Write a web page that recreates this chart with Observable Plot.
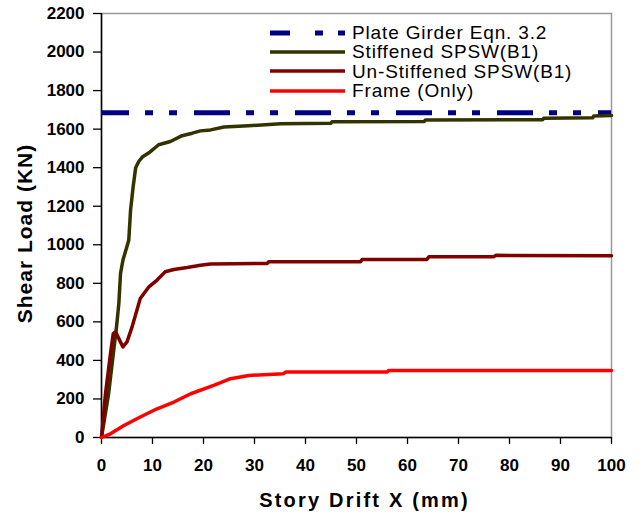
<!DOCTYPE html>
<html>
<head>
<meta charset="utf-8">
<script src="https://cdn.jsdelivr.net/npm/d3@7"></script>
<script src="https://cdn.jsdelivr.net/npm/@observablehq/plot@0.6"></script>
<style>
  html, body { margin: 0; padding: 0; background: white; }
  #wrap { position: relative; width: 642px; height: 516px; font-family: "Liberation Sans", Arial, sans-serif; }
  #legend { position: absolute; left: 270px; top: 23px; }
  .row { display: flex; align-items: center; height: 19.3px; }
  .row svg { width: 75px; height: 8px; display: block; }
  .row span { margin-left: 7px; font-size: 19px; line-height: 19px; white-space: nowrap; letter-spacing: 0.85px; color: #000; }
</style>
</head>
<body>
<div id="wrap"><div id="legend"></div></div>
<script>
// ---- data ----
const xTicks = [0, 10, 20, 30, 40, 50, 60, 70, 80, 90, 100];
const yTicks = [0, 200, 400, 600, 800, 1000, 1200, 1400, 1600, 1800, 2000, 2200];

const plateGirder = 1685; // Plate Girder Eqn. 3.2 (kN)

const stiffDrift = [0, 1.4, 2.95, 3.4, 3.73, 4.2, 5.35, 5.7, 6.2, 6.7, 7.3, 8.0, 9.3, 11.2, 13.5, 15.8, 17.8, 19.4, 21.4, 24, 28.8, 35.1, 45.0, 45.2, 63.3, 63.5, 86.5, 86.7, 96.3, 96.5, 100];
const stiffLoad  = [0, 229, 576, 695, 851, 920, 1024, 1180, 1300, 1400, 1432, 1455, 1477, 1519, 1536, 1566, 1579, 1591, 1596, 1611, 1617, 1628, 1631, 1638, 1640, 1647, 1649, 1657, 1659, 1668, 1671];

const unstiffDrift = [0, 0.78, 1.76, 2.3, 2.75, 3.4, 4.2, 5.0, 6.0, 7.6, 9.3, 10.9, 12.5, 14.2, 16.8, 19.4, 21.4, 32.5, 32.8, 50.8, 51.1, 63.8, 64.2, 76.9, 77.3, 100];
const unstiffLoad  = [0, 227, 435, 539, 548, 513, 470, 496, 574, 721, 782, 817, 860, 872, 882, 894, 900, 903, 912, 912, 924, 924, 938, 938, 945, 943];

const frameDrift = [0, 1.76, 4.4, 7.6, 10.9, 14.2, 17.5, 22, 25.3, 28.9, 35.7, 36.1, 56, 56.3, 100];
const frameLoad  = [0, 19, 62, 106, 149, 184, 227, 270, 305, 322, 331, 340, 340, 348, 348];

const seriesNames = ["Plate Girder Eqn. 3.2", "Stiffened SPSW(B1)", "Un-Stiffened SPSW(B1)", "Frame (Only)"];
const seriesColors = ["#000080", "#333300", "#800000", "#ff0000"];

const yTitle = "Shear Load (KN)";
const xTitle = "Story Drift X (mm)";

// ---- build tables ----
const toRows = (xs, ys) => xs.map((x, i) => ({x, y: ys[i]}));
const stiff = toRows(stiffDrift, stiffLoad);
const unstiff = toRows(unstiffDrift, unstiffLoad);
const frameOnly = toRows(frameDrift, frameLoad);

const lineStyle = {x: "x", y: "y", strokeWidth: 3.5, strokeLinejoin: "round", strokeLinecap: "round"};

const chart = Plot.plot({
  width: 642,
  height: 516,
  marginLeft: 101,
  marginRight: 31,
  marginTop: 13,
  marginBottom: 79,
  style: {fontFamily: "'Liberation Sans', Arial, sans-serif", fontSize: "17px", fontWeight: "bold", background: "white", color: "black"},
  x: {domain: [0, 100]},
  y: {domain: [0, 2200]},
  marks: [
    Plot.frame({stroke: "#999999", strokeWidth: 1.5}),
    Plot.ruleX([0], {stroke: "black", strokeWidth: 1.5}),
    Plot.ruleY([0], {stroke: "black", strokeWidth: 1.5}),
    Plot.axisX({ticks: xTicks, tickFormat: d3.format("d"), tickSize: 7, tickPadding: 14, label: null, strokeWidth: 1.3}),
    Plot.axisY({ticks: yTicks, tickFormat: d3.format("d"), tickSize: 8, tickPadding: 9, label: null, strokeWidth: 1.3}),
    Plot.ruleY([plateGirder], {stroke: seriesColors[0], strokeWidth: 5, strokeDasharray: "36,16,8,16,8,17", strokeDashoffset: 8}),
    Plot.line(stiff, {...lineStyle, stroke: seriesColors[1]}),
    Plot.line(unstiff, {...lineStyle, stroke: seriesColors[2]}),
    Plot.line(frameOnly, {...lineStyle, stroke: seriesColors[3]}),
    Plot.text([yTitle], {frameAnchor: "left", textAnchor: "middle", lineAnchor: "middle", rotate: -90, dx: -76, dy: 8, fontSize: 21, fontWeight: "bold"}),
    Plot.text([xTitle], {frameAnchor: "bottom", textAnchor: "middle", lineAnchor: "middle", dx: 8, dy: 63, fontSize: 20, fontWeight: "bold"})
  ]
});

// letter spacing of the axis titles (as in the reference)
d3.select(chart).selectAll("text").filter(function() { return this.textContent === yTitle; }).style("letter-spacing", "1px");
d3.select(chart).selectAll("text").filter(function() { return this.textContent === xTitle; }).style("letter-spacing", "2.2px");

const wrap = document.getElementById("wrap");
wrap.insertBefore(chart, wrap.firstChild);

// ---- legend ----
const legend = document.getElementById("legend");
const dashes = ["20,25,8,15,7", null, null, null];
const widths = [5, 3.5, 3.5, 3.5];
seriesNames.forEach((name, i) => {
  const row = document.createElement("div");
  row.className = "row";
  const dash = dashes[i] ? ` stroke-dasharray="${dashes[i]}"` : "";
  row.innerHTML = `<svg viewBox="0 0 75 8"><line x1="0" x2="75" y1="4" y2="4" stroke="${seriesColors[i]}" stroke-width="${widths[i]}"${dash}/></svg><span>${name}</span>`;
  legend.appendChild(row);
});
</script>
</body>
</html>
